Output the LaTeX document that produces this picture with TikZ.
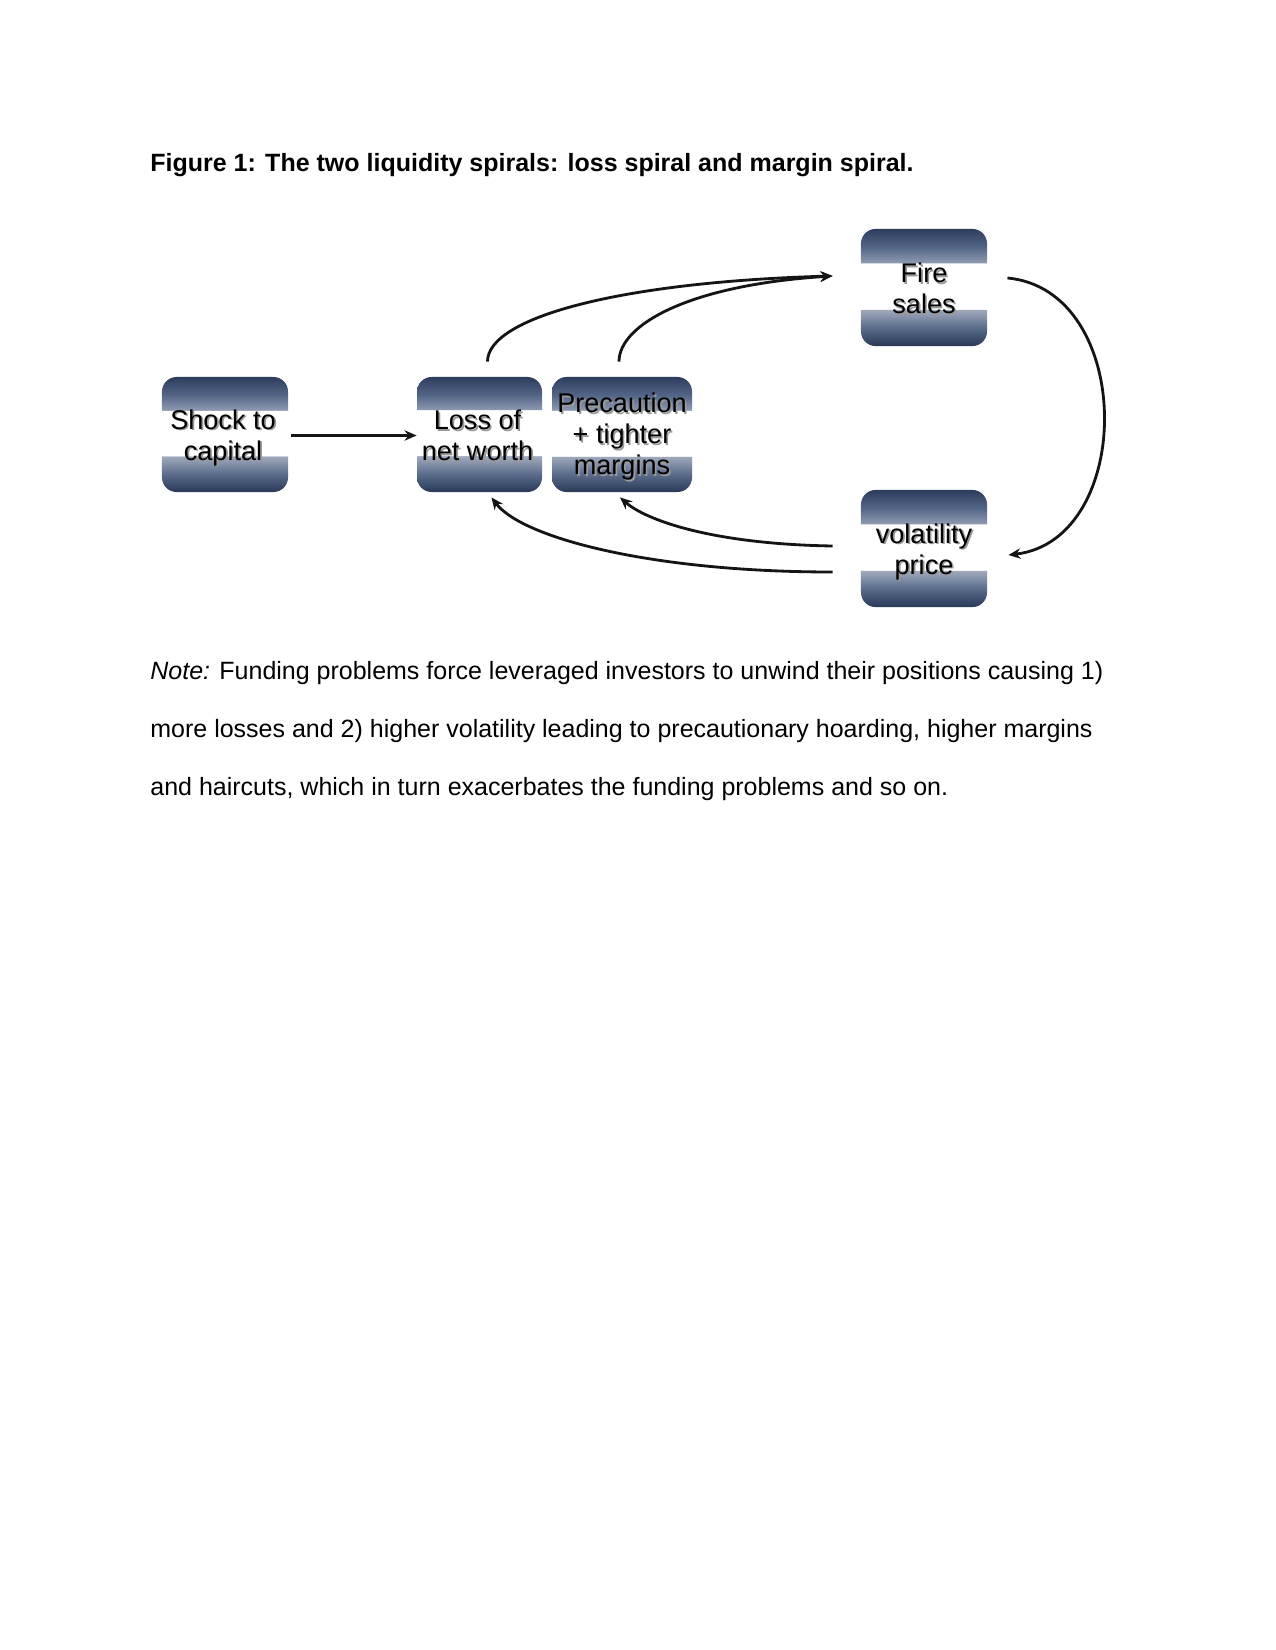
\documentclass[tikz,border=0pt]{standalone}
\usepackage{fontspec}
\setmainfont{Liberation Sans}
\usetikzlibrary{arrows.meta}
\pgfdeclareverticalshading{glass}{100bp}{rgb(0bp)=(0.16,0.22,0.34); rgb(25bp)=(0.16,0.22,0.34); rgb(33bp)=(0.36,0.43,0.55); rgb(40.6bp)=(0.63,0.67,0.74); rgb(40.7bp)=(1,1,1); rgb(60.6bp)=(1,1,1); rgb(60.7bp)=(0.55,0.60,0.69); rgb(67bp)=(0.33,0.40,0.53); rgb(75bp)=(0.18,0.24,0.37); rgb(100bp)=(0.18,0.24,0.37)}
\newcommand{\shd}[1]{\rlap{\hspace{0.8pt}\raisebox{-0.8pt}{\textcolor{black!40}{#1}}}#1}
\tikzset{
  glassbox/.style={rounded corners=7pt, shading=glass, inner sep=0pt, minimum height=55.2pt},
  boxtext/.style={inner sep=0pt, align=center, font=\fontsize{13}{15}\selectfont, text=black},
  conn/.style={line width=1.35pt, draw=black!92, -{Stealth[length=5.8pt,width=5pt]}},
  bodytext/.style={anchor=base west, inner sep=0pt, font=\fontsize{12}{14}\selectfont}
}
\begin{document}
\begin{tikzpicture}[x=0.48pt,y=-0.48pt]
\useasboundingbox[fill=white] (0,0) rectangle (1275,1650);

\node[bodytext, font=\fontsize{12}{14}\selectfont\bfseries] (title) at (150,172) {Figure 1: The two liquidity spirals: loss spiral and margin spiral.};

\node[glassbox, minimum width=60.5pt] (shock) at (225,434.5) {};
\node[glassbox, minimum width=60pt] (loss) at (479.5,434.5) {};
\node[glassbox, minimum width=67.2pt] (prec) at (622,434.5) {};
\node[glassbox, minimum width=60.5pt, minimum height=56.2pt] (fire) at (924,287.5) {};
\node[glassbox, minimum width=60.5pt, minimum height=56.2pt] (vol) at (924,548.5) {};

\node[boxtext] (shockt) at ([shift={(-2,4)}]shock.center) {\shd{Shock to}\\\shd{capital}};
\node[boxtext] (losst) at ([shift={(-2,2)}]loss.center) {\shd{Loss of}\\\shd{net worth}};
\node[boxtext] (prect) at ([shift={(0,3)}]prec.center) {\shd{Precaution}\\\shd{+ tighter}\\\shd{margins}};
\node[boxtext] (firet) at ([shift={(0,2)}]fire.center) {\shd{Fire}\\\shd{sales}};
\node[boxtext] (volt) at ([shift={(0,4)}]vol.center) {\shd{volatility}\\\shd{price}};

\draw[conn] ([shift={(3,1)}]shock.east) -- ([shift={(0,1)}]loss.west);
\draw[conn] ([shift={(8,-15)}]loss.north) .. controls +(0,-44) and +(-213,6) .. ([shift={(-28,-11.5)}]fire.west);
\draw[conn] ([shift={(-3,-15)}]prec.north) .. controls +(0,-37) and +(-143,9) .. ([shift={(-28,-11.5)}]fire.west);
\draw[conn] ([shift={(20,-9.5)}]fire.east) .. controls +(128,12) and +(127,-15) .. ([shift={(21,6.5)}]vol.east);
\draw[conn] ([shift={(-28,23.5)}]vol.west) .. controls +(-183,0) and +(30,40) .. ([shift={(12,5)}]loss.south);
\draw[conn] ([shift={(-28,-2.5)}]vol.west) .. controls +(-123,-2) and +(25,22) .. ([shift={(-2,5)}]prec.south);

\node[bodytext] (note1) at (150,679) {\textit{Note:} Funding problems force leveraged investors to unwind their positions causing 1)};
\node[bodytext] (note2) at (150,737) {more losses and 2) higher volatility leading to precautionary hoarding, higher margins};
\node[bodytext] (note3) at (150,795) {and haircuts, which in turn exacerbates the funding problems and so on.};
\end{tikzpicture}
\end{document}
